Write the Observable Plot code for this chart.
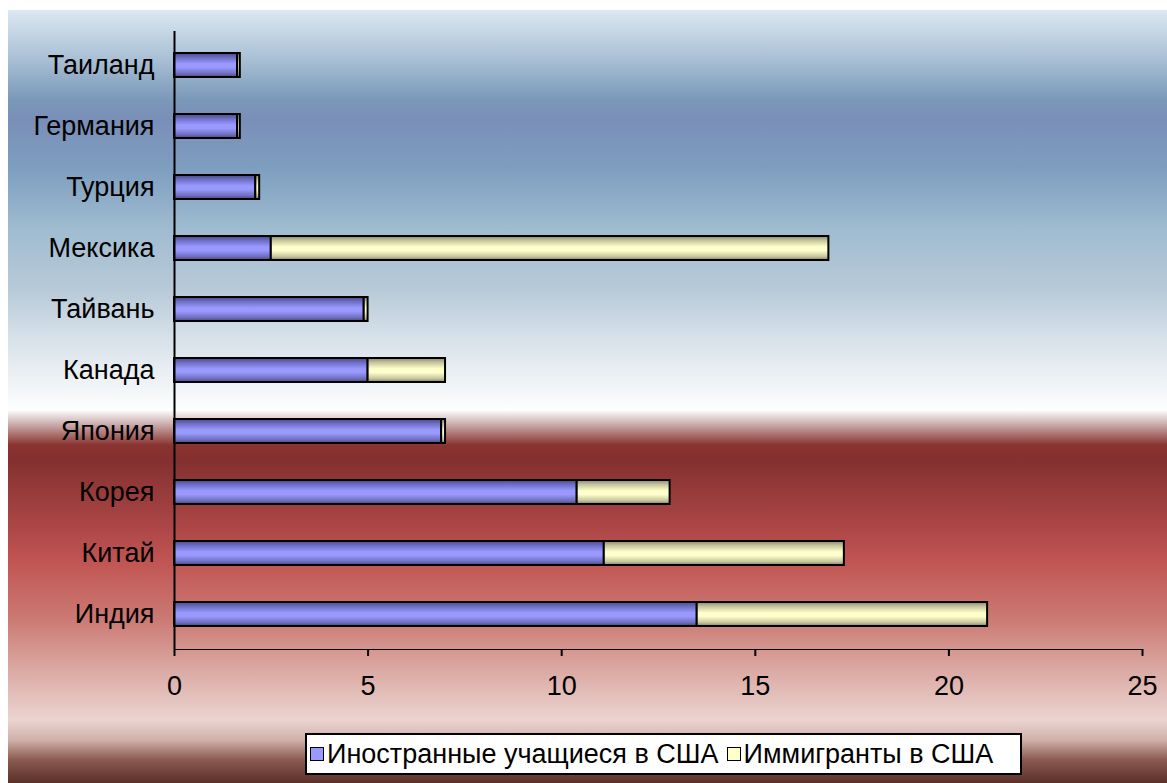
<!DOCTYPE html>
<html>
<head>
<meta charset="utf-8">
<script src="https://cdn.jsdelivr.net/npm/d3@7"></script>
<script src="https://cdn.jsdelivr.net/npm/@observablehq/plot@0.6"></script>
<style>
  html, body { margin: 0; padding: 0; background: #ffffff; }
  #wrap { position: relative; width: 1167px; height: 783px; overflow: hidden; font-family: "Liberation Sans", Arial, sans-serif; }
  #bg { position: absolute; left: 8px; top: 10px; right: 0; bottom: 0;
    background: linear-gradient(to bottom,
      #dce8f2 0px, #a8bfd4 50px, #7a98b8 90px, #7a8fb8 110px, #7e9fc0 160px,
      #a0bcd0 220px, #b8cad8 280px, #d8e2ea 330px, #eef2f5 370px, #fdfefe 400px,
      #c8a8a8 415px, #8a3430 435px, #843030 450px, #a84444 510px, #c05452 550px,
      #cc7a74 610px, #d8a09a 650px, #ebd5d1 710px, #d0b0aa 730px, #8a5a50 750px, #5a3028 773px); }
  #chart { position: absolute; left: 0; top: 0; }
  #legend { position: absolute; left: 305px; top: 733px; width: 713px; height: 38px;
    background: #ffffff; border: 2px solid #000; display: flex; align-items: center;
    font-size: 27px; color: #000; box-sizing: content-box; white-space: nowrap; }
  .sw { display: inline-block; width: 12px; height: 12px; border: 1.5px solid #000; margin: 0 3px 0 3px; }
</style>
</head>
<body>
<div id="wrap">
  <div id="bg"></div>
  <div id="chart"></div>
  <div id="legend"></div>
</div>
<script>
const countries = ["Таиланд", "Германия", "Турция", "Мексика", "Тайвань", "Канада", "Япония", "Корея", "Китай", "Индия"];
const seriesNames = ["Иностранные учащиеся в США", "Иммигранты в США"];
const students   = [1.63, 1.63, 2.1, 2.5, 4.9, 5.0, 6.9, 10.4, 11.1, 13.5];
const immigrants = [0.07, 0.07, 0.1, 14.4, 0.1, 2.0, 0.1, 2.4, 6.2, 7.5];
const xTicks = [0, 5, 10, 15, 20, 25];
const seriesFills = ["url(#gBlue)", "url(#gYellow)"];
const legendColors = ["#9999ff", "#ffffcc"];

const data = [];
countries.forEach((c, i) => {
  data.push({country: c, series: seriesNames[0], value: students[i], order: 0});
  data.push({country: c, series: seriesNames[1], value: immigrants[i], order: 1});
});

function defs() {
  const ns = "http://www.w3.org/2000/svg";
  const d = document.createElementNS(ns, "defs");
  const mk = (id, stops) => {
    const g = document.createElementNS(ns, "linearGradient");
    g.setAttribute("id", id);
    g.setAttribute("x1", "0"); g.setAttribute("y1", "0");
    g.setAttribute("x2", "0"); g.setAttribute("y2", "1");
    stops.forEach(([o, c]) => {
      const s = document.createElementNS(ns, "stop");
      s.setAttribute("offset", o); s.setAttribute("stop-color", c);
      g.appendChild(s);
    });
    d.appendChild(g);
  };
  mk("gBlue", [[0, "#4a4a8a"], [0.2, "#7070c8"], [0.45, "#9999ff"], [0.6, "#9999ff"], [0.85, "#7070c0"], [1, "#4a4a80"]]);
  mk("gYellow", [[0, "#8a8a70"], [0.2, "#c8c8a0"], [0.45, "#ffffcc"], [0.6, "#ffffcc"], [0.85, "#c8c8a0"], [1, "#80806a"]]);
  return d;
}

const chart = Plot.plot({
  width: 1167,
  height: 783,
  marginLeft: 174,
  marginRight: 25,
  marginTop: 31,
  marginBottom: 134,
  style: {background: "transparent", fontFamily: "'Liberation Sans', Arial, sans-serif", fontSize: "27px", color: "#000"},
  x: {domain: [0, 25], ticks: xTicks, tickSize: 7, tickPadding: 19, label: null, line: true},
  y: {domain: countries, paddingInner: 0.6, paddingOuter: 0.3, tickSize: 0, tickPadding: 20, label: null},
  color: {domain: seriesNames, range: seriesFills},
  marks: [
    defs,
    Plot.barX(data, Plot.stackX({x: "value", y: "country", fill: "series", order: "order", stroke: "#000", strokeWidth: 2})),
    Plot.ruleX([0], {stroke: "#000", strokeWidth: 2})
  ]
});
chart.querySelectorAll('[aria-label="x-axis line"], [aria-label="x-axis tick"]').forEach(g => g.setAttribute("stroke-width", 2));
document.getElementById("chart").appendChild(chart);

const leg = document.getElementById("legend");
seriesNames.forEach((n, i) => {
  const sw = document.createElement("span");
  sw.className = "sw";
  sw.style.background = legendColors[i];
  if (i > 0) sw.style.marginLeft = "8px";
  leg.appendChild(sw);
  const t = document.createElement("span");
  t.textContent = n;
  leg.appendChild(t);
});
</script>
</body>
</html>
